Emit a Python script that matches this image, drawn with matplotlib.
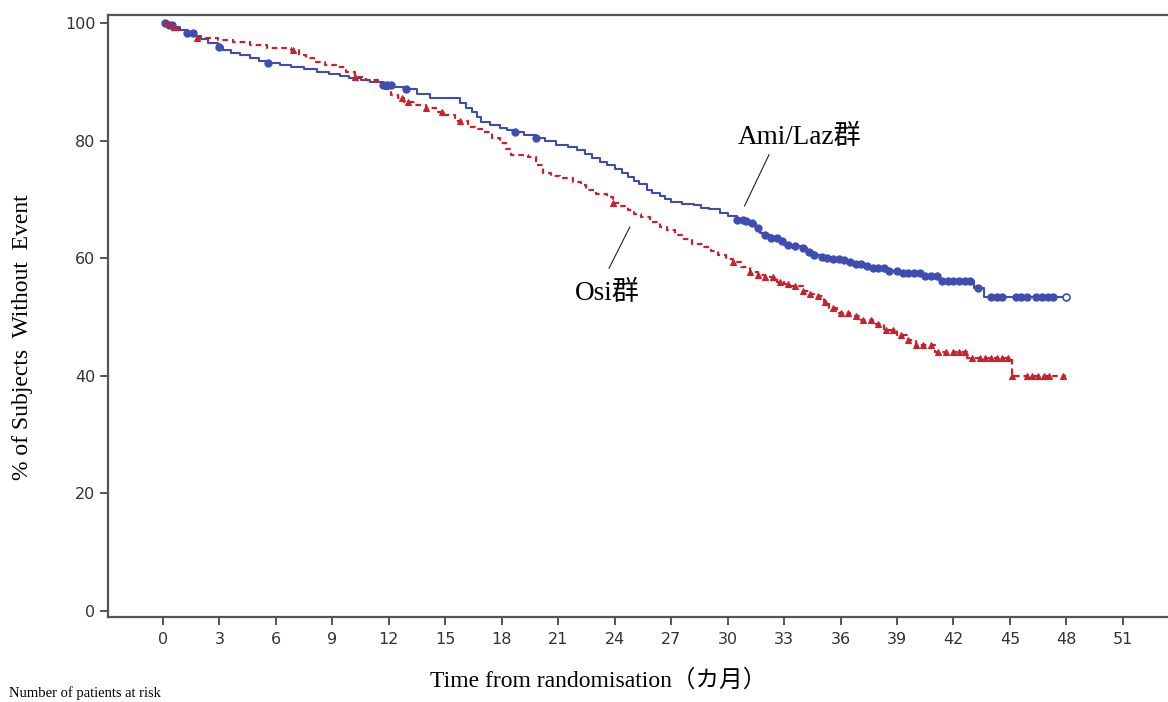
import numpy as np
import matplotlib.pyplot as plt

# Kaplan-Meier step points (months, % without event)
ami_t = [0, 0.3, 0.6, 0.9, 1.3, 1.7, 2.0, 2.4, 2.9, 3.2, 3.6, 4.1, 4.6, 5.1, 5.6, 6.2,
         6.8, 7.5, 8.2, 8.8, 9.4, 9.9, 10.5, 11.0, 11.7, 12.3, 12.8, 13.5, 14.2, 15.8,
         16.1, 16.4, 16.7, 16.9, 17.4, 17.9, 18.3, 18.7, 19.2, 19.8, 20.3, 20.9, 21.5,
         22.0, 22.4, 22.8, 23.2, 23.6, 24.0, 24.4, 24.7, 25.0, 25.3, 25.7, 26.0, 26.4,
         26.7, 27.0, 27.6, 28.2, 28.6, 29.0, 29.6, 30.0, 30.5, 30.9, 31.2, 31.5, 31.7,
         32.0, 32.3, 32.7, 33.0, 33.4, 33.9, 34.2, 34.6, 35.0, 35.3, 35.6, 36.0, 36.4,
         36.8, 37.2, 37.7, 38.5, 39.2, 40.3, 41.3, 43.1, 43.6, 48.0]
ami_s = [100, 99.6, 99.3, 98.8, 98.3, 97.8, 97.2, 96.6, 95.9, 95.4, 94.9, 94.5, 94.0, 93.6,
         93.2, 92.9, 92.5, 92.1, 91.7, 91.3, 91.0, 90.6, 90.3, 90.0, 89.5, 89.2, 88.8, 88.0,
         87.2, 86.4, 85.6, 84.8, 84.0, 83.2, 82.6, 82.1, 81.8, 81.5, 81.0, 80.4, 79.9,
         79.3, 78.9, 78.4, 77.8, 77.1, 76.4, 75.8, 75.2, 74.5, 73.8, 73.2, 72.6, 71.6,
         71.1, 70.5, 70.0, 69.6, 69.3, 69.0, 68.6, 68.3, 67.7, 67.2, 66.5, 66.3, 66.0,
         65.2, 64.3, 64.0, 63.5, 62.9, 62.2, 62.0, 61.7, 61.1, 60.5, 60.2, 60.0, 59.8,
         59.7, 59.3, 59.0, 58.6, 58.3, 57.9, 57.5, 56.9, 56.1, 55.0, 53.4, 53.4]

osi_t = [0, 0.4, 0.8, 1.3, 1.8, 2.9, 3.7, 4.6, 5.5, 6.8, 7.2, 7.6, 8.0, 8.6, 9.2, 9.7,
         10.2, 10.8, 11.4, 11.8, 12.1, 12.5, 12.8, 13.4, 14.0, 14.5, 14.9, 15.5, 16.2,
         16.6, 17.0, 17.5, 17.9, 18.2, 18.5, 19.4, 19.8, 20.2, 20.6, 21.1, 21.8, 22.2,
         22.5, 23.0, 23.6, 23.9, 24.3, 24.7, 25.0, 25.4, 25.9, 26.4, 26.8, 27.2, 27.6,
         28.1, 28.7, 29.1, 29.5, 29.9, 30.3, 30.7, 31.2, 31.6, 32.0, 32.6, 33.0, 33.3,
         34.0, 34.3, 34.6, 35.1, 35.4, 35.8, 36.5, 37.1, 37.7, 38.3, 39.0, 39.6, 40.0,
         41.0, 42.7, 45.1, 48.0]
osi_s = [100, 99.4, 98.8, 98.1, 97.4, 97.1, 96.7, 96.3, 95.8, 95.4, 94.6, 94.0, 93.4, 92.9,
         92.5, 91.6, 90.8, 90.3, 89.8, 88.8, 87.8, 87.2, 86.6, 86.0, 85.5, 84.9, 84.4,
         83.4, 82.3, 81.9, 81.5, 80.5, 79.6, 78.6, 77.6, 77.2, 75.8, 74.5, 74.0, 73.6,
         73.0, 72.4, 71.6, 71.0, 70.4, 69.4, 68.8, 68.2, 67.6, 67.0, 66.1, 65.3, 64.8,
         64.0, 63.2, 62.5, 61.9, 61.2, 60.6, 59.9, 59.3, 58.5, 57.6, 57.2, 56.8, 56.0,
         55.6, 55.2, 54.5, 54.0, 53.6, 52.6, 51.6, 50.7, 50.2, 49.5, 48.8, 47.8, 46.9,
         46.1, 45.2, 44.1, 43.0, 40.0, 40.0]

# censoring times
ami_cens = [0.1, 0.3, 0.5, 1.3, 1.6, 3.0, 5.6, 11.7, 11.9, 12.1, 12.9, 18.7, 19.8,
            30.5, 30.8, 31.0, 31.3, 31.6, 32.0, 32.3, 32.6, 32.9, 33.2, 33.6, 34.0, 34.3,
            34.6, 35.0, 35.3, 35.6, 35.9, 36.2, 36.5, 36.8, 37.1, 37.4, 37.7, 38.0, 38.3,
            38.6, 39.0, 39.3, 39.6, 39.9, 40.2, 40.5, 40.8, 41.1, 41.4, 41.7, 42.0, 42.3,
            42.6, 42.9, 43.3, 44.0, 44.3, 44.6, 45.3, 45.6, 45.9, 46.4, 46.7, 47.0, 47.3]
ami_last = 48.0
osi_cens = [0.2, 0.6, 1.8, 6.9, 10.2, 12.7, 13.0, 14.0, 14.8, 15.8, 23.9, 30.3, 31.2,
            31.6, 32.0, 32.4, 32.8, 33.2, 33.6, 34.0, 34.4, 34.8, 35.2, 35.6, 36.0, 36.4,
            36.8, 37.2, 37.6, 38.0, 38.4, 38.8, 39.2, 39.6, 40.0, 40.4, 40.8, 41.2, 41.6,
            42.0, 42.3, 42.6, 43.0, 43.4, 43.7, 44.0, 44.3, 44.6, 44.9, 45.1, 45.9, 46.2,
            46.5, 46.8, 47.1, 47.8]

xticks = list(range(0, 52, 3))
yticks = [0, 20, 40, 60, 80, 100]

blue = '#3f4db3'
red = '#c8222f'
serif = ['Liberation Serif', 'Noto Sans CJK JP']


def surv_at(t, s, c):
    idx = np.searchsorted(t, c, side='right') - 1
    return np.asarray(s)[idx]


fig = plt.figure(figsize=(11.68, 7.02), dpi=100)
ax = fig.add_axes([0.0925, 0.121, 0.9075, 0.8576])

ax.step(ami_t, ami_s, where='post', color=blue, lw=1.5)
ax.step(osi_t, osi_s, where='post', color=red, lw=1.6, dashes=(2.5, 1.8))

ax.plot(ami_cens, surv_at(ami_t, ami_s, ami_cens), 'o', ms=5, color=blue,
        mfc=blue, mec=blue, mew=1)
ax.plot([ami_last], surv_at(ami_t, ami_s, [ami_last]), 'o', ms=5, color=blue,
        mfc='white', mec=blue, mew=1.2)
ax.plot(osi_cens, surv_at(osi_t, osi_s, osi_cens), '^', ms=5, color=red,
        mfc=red, mec=red, mew=0.8)

ax.set_xlim(-2.92, 53.4)
ax.set_ylim(-1.02, 101.36)
ax.set_xticks(xticks)
ax.set_yticks(yticks)
ax.tick_params(direction='out', length=6, width=1.4, color='#555555',
               labelsize=11.5, labelcolor='#333333', pad=5)
ax.tick_params(axis='y', length=6, pad=3)

for side in ['left', 'top', 'bottom']:
    ax.spines[side].set_color('#555555')
    ax.spines[side].set_linewidth(1.6)
ax.spines['right'].set_visible(False)

# group labels with leader lines
ax.text(30.55, 80.6, 'Ami/Laz群', fontsize=19.5, family=serif, ha='left', va='center')
ax.plot([32.2, 30.9], [77.6, 68.9], color='#222222', lw=0.8)
ax.text(21.9, 54.1, 'Osi群', fontsize=19.5, family=serif, ha='left', va='center')
ax.plot([24.8, 23.7], [65.3, 58.3], color='#222222', lw=0.8)

fig.text(0.019, 0.52, '% of Subjects  Without  Event', rotation=90,
         fontsize=17, family=serif, ha='center', va='center')
fig.text(0.512, 0.031, 'Time from randomisation（カ月）', fontsize=17,
         family=serif, ha='center', va='center')
fig.text(0.008, 0.003, 'Number of patients at risk', fontsize=10.5,
         family=serif, ha='left', va='bottom')

fig.savefig('out.png', dpi=100)
